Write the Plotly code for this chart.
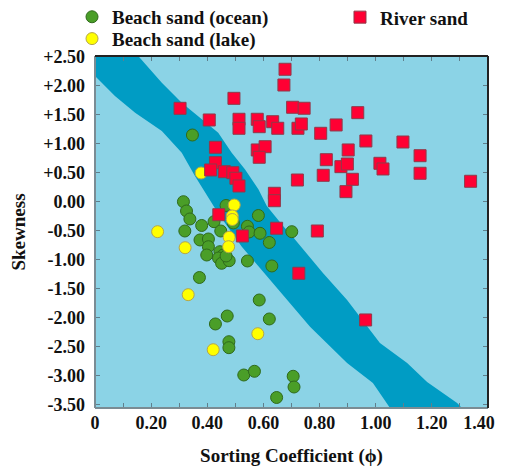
import plotly.graph_objects as go

# ---------------- data ----------------
OCEAN_X = [0.347, 0.315, 0.326, 0.338, 0.380, 0.320, 0.424, 0.467, 0.448, 0.493,
           0.374, 0.404, 0.404, 0.398, 0.445, 0.457, 0.440, 0.451, 0.478, 0.467,
           0.543, 0.549, 0.582, 0.588, 0.621, 0.701, 0.543, 0.630, 0.372, 0.585,
           0.471, 0.429, 0.621, 0.477, 0.477, 0.530, 0.568, 0.706, 0.709, 0.647]
OCEAN_Y = [1.155, 0.005, -0.155, -0.293, -0.405, -0.500, -0.340, -0.060, -0.500, -0.362,
           -0.655, -0.638, -0.771, -0.914, -0.857, -0.914, -0.966, -1.057, -1.012, -0.931,
           -0.419, -0.517, -0.233, -0.540, -0.698, -0.512, -1.017, -1.103, -1.302, -1.690,
           -1.966, -2.103, -2.017, -2.409, -2.512, -2.983, -2.919, -3.005, -3.190, -3.371]

LAKE_X = [0.378, 0.496, 0.489, 0.489, 0.478, 0.476, 0.321, 0.223, 0.332, 0.580, 0.421]
LAKE_Y = [0.500, -0.052, -0.241, -0.302, -0.609, -0.771, -0.788, -0.512, -1.598, -2.271, -2.547]

RIVER_X = [0.677, 0.673, 0.495, 0.303, 0.407, 0.513, 0.513, 0.578, 0.585, 0.633,
           0.651, 0.704, 0.745, 0.936, 0.723, 0.735, 0.804, 0.859, 0.965, 1.097,
           0.902, 1.158, 0.824, 0.876, 0.899, 1.015, 1.026, 0.721, 0.813, 0.917,
           1.158, 0.894, 1.338, 0.792, 0.429, 0.578, 0.606, 0.585, 0.429, 0.412,
           0.461, 0.491, 0.502, 0.513, 0.639, 0.639, 0.441, 0.647, 0.525, 0.726, 0.964]
RIVER_Y = [2.288, 2.017, 1.787, 1.615, 1.414, 1.426, 1.271, 1.426, 1.298, 1.384,
           1.271, 1.633, 1.616, 1.540, 1.271, 1.345, 1.184, 1.328, 1.052, 1.034,
           0.897, 0.798, 0.729, 0.609, 0.655, 0.667, 0.569, 0.379, 0.460, 0.391,
           0.495, 0.178, 0.357, -0.500, 0.943, 0.897, 0.953, 0.771, 0.678, 0.552,
           0.522, 0.505, 0.409, 0.276, 0.150, 0.022, -0.219, -0.453, -0.586, -1.229, -2.034]

# band (dark zone) boundaries
BAND_UPPER_X = [-0.10, 0.114, 0.154, 0.238, 0.309, 0.380, 0.439, 0.487, 0.534, 0.582,
                0.612, 0.670, 0.705, 0.812, 0.898, 1.015, 1.112, 1.183, 1.290, 1.307, 1.33]
BAND_UPPER_Y = [2.80, 2.70, 2.517, 2.057, 1.712, 1.426, 1.195, 0.850, 0.564, 0.219,
                -0.069, -0.414, -0.603, -1.224, -1.690, -2.431, -2.776, -3.103, -3.466, -3.552, -3.70]
BAND_LOWER_X = [-0.10, 0.0, 0.071, 0.143, 0.238, 0.309, 0.356, 0.392, 0.438, 0.523,
                0.623, 0.766, 0.898, 0.990, 1.051, 1.07]
BAND_LOWER_Y = [2.35, 2.172, 1.828, 1.540, 1.224, 0.850, 0.450, 0.160, -0.190, -0.771,
                -1.345, -2.150, -2.776, -3.121, -3.552, -3.70]

X_TICK_VALUES = [0, 0.2, 0.4, 0.6, 0.8, 1.0, 1.2, 1.4]
X_TICK_LABELS = ["0", "0.20", "0.40", "0.60", "0.80", "1.00", "1.20",
                 "1.40\u00a0\u00a0\u00a0\u00a0"]
Y_TICK_VALUES = [2.5, 2.0, 1.5, 1.0, 0.5, 0.0, -0.5, -1.0, -1.5, -2.0, -2.5, -3.0, -3.5]
Y_TICK_LABELS = ["+2.50", "+2.00", "+1.50", "+1.00", "+0.50", "0.00", "-0.50", "-1.00",
                 "-1.50", "-2.00", "-2.50", "-3.00", "-3.50"]

FONT = "Liberation Serif, Times New Roman, serif"
BG = "#8BD3E6"
BAND = "#009CC4"
# the page body adds an 8px margin, so the figure is 8px smaller than the window
W, H = 498, 459

band_x = BAND_UPPER_X + BAND_LOWER_X[::-1]
band_y = BAND_UPPER_Y + BAND_LOWER_Y[::-1]

fig = go.Figure()
fig.add_trace(go.Scatter(x=band_x, y=band_y, mode="lines", fill="toself",
                         fillcolor=BAND, line=dict(width=0, color=BAND),
                         hoverinfo="skip", showlegend=False))
fig.add_trace(go.Scatter(x=OCEAN_X, y=OCEAN_Y, mode="markers", name="Beach sand (ocean)",
                         marker=dict(symbol="circle", size=12, color="#4A9E28",
                                     line=dict(color="#2F6A1C", width=1)),
                         legend="legend"))
fig.add_trace(go.Scatter(x=LAKE_X, y=LAKE_Y, mode="markers", name="Beach sand (lake)",
                         marker=dict(symbol="circle", size=12, color="#FFFF00",
                                     line=dict(color="#B5A64A", width=1)),
                         legend="legend2"))
fig.add_trace(go.Scatter(x=RIVER_X, y=RIVER_Y, mode="markers", name="River sand",
                         marker=dict(symbol="square", size=12, color="#FF0033",
                                     line=dict(color="#8E3A4A", width=1)),
                         legend="legend3"))

lfont = dict(family=FONT, size=19, color="#111111", weight="bold")
common_leg = dict(font=lfont, bgcolor="rgba(0,0,0,0)", borderwidth=0,
                  xanchor="left", yanchor="middle", itemwidth=30)

fig.update_layout(
    width=W, height=H,
    margin=dict(l=87, r=18, t=48, b=59, autoexpand=False),
    paper_bgcolor="white", plot_bgcolor=BG,
    font=dict(family=FONT, size=18, color="#111111", weight="bold"),
    legend=dict(x=-0.0585, y=1.111, **common_leg),
    legend2=dict(x=-0.0585, y=1.049, **common_leg),
    legend3=dict(x=0.6234, y=1.110, **common_leg),
    xaxis=dict(range=[0, 1.4], tickvals=X_TICK_VALUES, ticktext=X_TICK_LABELS,
               ticks="inside", ticklen=5, tickcolor="#5F7F8C", tickwidth=1,
               minor=dict(dtick=0.1, ticks="inside", ticklen=5, tickcolor="#5F7F8C", showgrid=False),
               showgrid=False, zeroline=False, showline=False, mirror="allticks",
               ticklabelstandoff=2, tickangle=0, ticklabeloverflow="allow",
               tickfont=dict(family=FONT, size=18, color="#111111", weight="bold"),
               title=dict(text="Sorting Coefficient (ϕ)", standoff=22,
                          font=dict(family=FONT, size=19, color="#111111", weight="bold")),
               automargin=False),
    yaxis=dict(range=[-3.552, 2.517], tickvals=Y_TICK_VALUES, ticktext=Y_TICK_LABELS,
               ticks="inside", ticklen=5, tickcolor="#5F7F8C", tickwidth=1,
               showgrid=False, zeroline=False, showline=False, mirror="allticks",
               ticklabelstandoff=9,
               tickfont=dict(family=FONT, size=18, color="#111111", weight="bold"),
               title=dict(text="Skewness", standoff=19,
                          font=dict(family=FONT, size=19, color="#111111", weight="bold")),
               automargin=False),
    shapes=[
        dict(type="line", xref="paper", yref="paper", x0=0, x1=0, y0=0, y1=1,
             line=dict(color="#7A8C94", width=2)),
        dict(type="line", xref="paper", yref="paper", x0=0, x1=1, y0=0, y1=0,
             line=dict(color="#7A8C94", width=2)),
        dict(type="line", xref="paper", yref="paper", x0=0, x1=1, y0=1, y1=1,
             line=dict(color="#222222", width=2)),
        dict(type="line", xref="paper", yref="paper", x0=1, x1=1, y0=0, y1=1,
             line=dict(color="#222222", width=2)),
    ],
)

fig.write_html("out.html")
